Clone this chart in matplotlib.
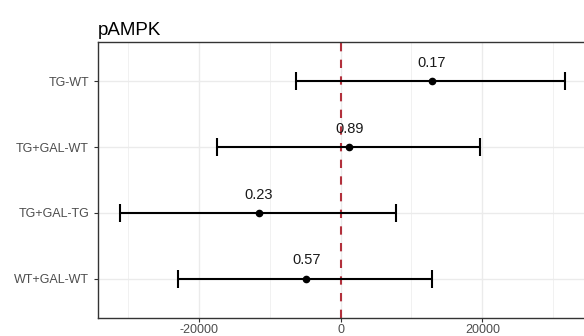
import matplotlib
matplotlib.use('Agg')
import matplotlib.pyplot as plt
from matplotlib.ticker import MultipleLocator

# contrasti e intervalli di confidenza
contrasti = ['TG-WT', 'TG+GAL-WT', 'TG+GAL-TG', 'WT+GAL-WT']
stime = [12840, 1260, -11520, -4820]
ci_basso = [-6220, -17360, -31040, -22840]
ci_alto = [31600, 19620, 7870, 12920]
p_valori = ['0.17', '0.89', '0.23', '0.57']

plt.rcParams['font.family'] = ['Liberation Sans', 'DejaVu Sans']
plt.rcParams['axes.unicode_minus'] = False

fig = plt.figure(figsize=(5.84, 3.36), dpi=100)
ax = fig.add_axes([98 / 584, 18 / 336, 489 / 584, 276 / 336])

pos = list(range(len(contrasti), 0, -1))

# griglia stile ggplot theme_bw
ax.set_xlim(-34170, 34730)
ax.set_ylim(0.4, len(contrasti) + 0.6)
ax.xaxis.set_major_locator(MultipleLocator(20000))
ax.xaxis.set_minor_locator(MultipleLocator(10000))
ax.grid(which='major', color='#EBEBEB', linewidth=1.0, zorder=0)
ax.grid(which='minor', axis='x', color='#EBEBEB', linewidth=0.5, zorder=0)
ax.set_axisbelow(True)

ax.axvline(0, color='#B2303C', linewidth=1.5, dashes=(4, 4), zorder=2)

err = [[s - lo for s, lo in zip(stime, ci_basso)],
       [hi - s for s, hi in zip(stime, ci_alto)]]
ax.errorbar(stime, pos, xerr=err, fmt='o', color='black', ecolor='black',
            elinewidth=1.5, capsize=6.5, capthick=1.5, markersize=4.5, zorder=3)

for s, y, p in zip(stime, pos, p_valori):
    ax.annotate(p, (s, y), xytext=(0, 8), textcoords='offset points',
                ha='center', va='bottom', fontsize=10.5, color='#1A1A1A')

ax.set_yticks(pos)
ax.set_yticklabels(contrasti)
ax.tick_params(axis='both', which='major', colors='#333333', labelcolor='#4D4D4D',
               labelsize=9, length=3, width=0.8)
ax.tick_params(axis='x', which='major', pad=1.5)
ax.tick_params(axis='x', which='minor', length=0)
for sp in ax.spines.values():
    sp.set_color('#333333')
    sp.set_linewidth(1.0)

ax.set_title('pAMPK', loc='left', fontsize=13.5, color='black', pad=5)

fig.savefig('out.png', dpi=100)
